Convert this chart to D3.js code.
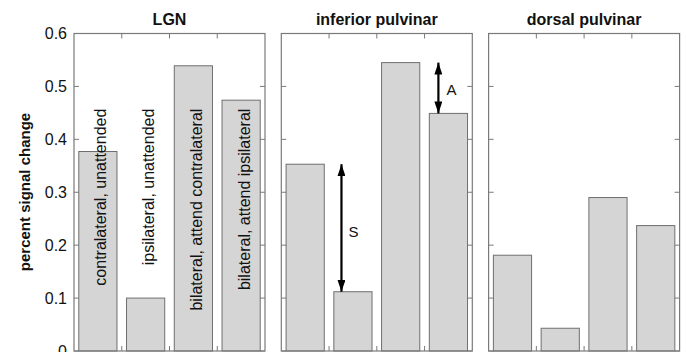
<!DOCTYPE html>
<html>
<head>
<meta charset="utf-8">
<script src="https://cdn.jsdelivr.net/npm/d3@7"></script>
<style>
html,body{margin:0;padding:0;background:#fff;}
svg{display:block;font-family:"Liberation Sans",Arial,Helvetica,sans-serif;}
</style>
</head>
<body>
<svg id="chart" width="686" height="352"></svg>
<script>
// ---- data ----
const panels = ["LGN", "inferior pulvinar", "dorsal pulvinar"];
const conditions = ["contralateral, unattended", "ipsilateral, unattended", "bilateral, attend contralateral", "bilateral, attend ipsilateral"];
const lgnValues = [0.377, 0.100, 0.539, 0.474];
const inferiorValues = [0.353, 0.112, 0.545, 0.449];
const dorsalValues = [0.181, 0.043, 0.290, 0.237];
const yTicks = [0, 0.1, 0.2, 0.3, 0.4, 0.5, 0.6];
const yTickLabels = ["0", "0.1", "0.2", "0.3", "0.4", "0.5", "0.6"];
const arrowLabels = ["S", "A"];
const arrowX = [1.76, 3.79];
const arrowFrom = [0.353, 0.545];
const arrowTo = [0.112, 0.449];

const values = [lgnValues, inferiorValues, dorsalValues];

// ---- layout ----
const svg = d3.select("#chart");
const mLeft = 74, panelW = 191, gap = 16.3, mTop = 33.5, mBottom = 351;
const y = d3.scaleLinear().domain([0, 0.6]).range([mBottom, mTop]);
const boxColor = "#7a7a7a";

// arrow marker
const defs = svg.append("defs");
defs.append("marker").attr("id", "ah").attr("viewBox", "0 0 12 8")
  .attr("refX", 12).attr("refY", 4).attr("markerWidth", 12).attr("markerHeight", 8)
  .attr("markerUnits", "userSpaceOnUse").attr("orient", "auto-start-reverse")
  .append("path").attr("d", "M0,0 L12,4 L0,8 Z").attr("fill", "#000");

panels.forEach((name, p) => {
  const x0 = mLeft + p * (panelW + gap);
  const x = d3.scaleLinear().domain([0.5, 4.5]).range([x0, x0 + panelW]);
  const g = svg.append("g");
  const vals = values[p];

  // bars
  g.selectAll("rect.bar").data(vals).enter().append("rect")
    .attr("class", "bar")
    .attr("x", (d, i) => x(i + 1 - 0.4))
    .attr("width", (d, i) => x(i + 1 + 0.4) - x(i + 1 - 0.4))
    .attr("y", d => y(d))
    .attr("height", d => y(0) - y(d))
    .attr("fill", "#d5d5d5")
    .attr("stroke", "#6f6f6f")
    .attr("stroke-width", 1);

  // frame
  g.append("rect").attr("x", x0).attr("y", mTop).attr("width", panelW).attr("height", mBottom - mTop)
    .attr("fill", "none").attr("stroke", boxColor).attr("stroke-width", 1.2);

  // inward ticks: y on both sides
  const tl = 5;
  yTicks.forEach(t => {
    g.append("line").attr("x1", x0).attr("x2", x0 + tl).attr("y1", y(t)).attr("y2", y(t)).attr("stroke", boxColor);
    g.append("line").attr("x1", x0 + panelW).attr("x2", x0 + panelW - tl).attr("y1", y(t)).attr("y2", y(t)).attr("stroke", boxColor);
  });
  // x ticks between bars, top and bottom
  [1.5, 2.5, 3.5].forEach(t => {
    g.append("line").attr("x1", x(t)).attr("x2", x(t)).attr("y1", mTop).attr("y2", mTop + tl).attr("stroke", boxColor);
    g.append("line").attr("x1", x(t)).attr("x2", x(t)).attr("y1", mBottom).attr("y2", mBottom - tl).attr("stroke", boxColor);
  });

  // title
  g.append("text").attr("x", (x(0.5) + x(4.5)) / 2).attr("y", 25)
    .attr("text-anchor", "middle").attr("font-weight", "bold").attr("font-size", 16)
    .attr("fill", "#111").text(name);

  if (p === 0) {
    // y tick labels
    yTicks.forEach((t, i) => {
      g.append("text").attr("x", x0 - 7).attr("y", y(t)).attr("dy", "0.36em")
        .attr("text-anchor", "end").attr("font-size", 16).attr("fill", "#111").text(yTickLabels[i]);
    });
    // y label
    svg.append("text").attr("transform", `translate(30,192) rotate(-90)`)
      .attr("text-anchor", "middle").attr("font-weight", "bold").attr("font-size", 15)
      .attr("fill", "#111").text("percent signal change");
    // condition labels inside bars
    conditions.forEach((c, i) => {
      g.append("text")
        .attr("transform", `translate(${x(i + 1) + 3},${y(0.458)}) rotate(-90)`)
        .attr("text-anchor", "end").attr("dy", "0.35em")
        .attr("font-size", 16).attr("fill", "#111").text(c);
    });
  }

  if (p === 1) {
    arrowLabels.forEach((lab, i) => {
      g.append("line").attr("x1", x(arrowX[i])).attr("x2", x(arrowX[i]))
        .attr("y1", y(arrowFrom[i])).attr("y2", y(arrowTo[i]))
        .attr("stroke", "#000").attr("stroke-width", 2.2)
        .attr("marker-start", "url(#ah)").attr("marker-end", "url(#ah)");
      g.append("text").attr("x", x(arrowX[i]) + (i === 0 ? 12 : 13))
        .attr("y", (y(arrowFrom[i]) + y(arrowTo[i])) / 2 + (i === 0 ? 4 : 2))
        .attr("dy", "0.36em").attr("text-anchor", "middle")
        .attr("font-size", 15).attr("fill", "#111").text(lab);
    });
  }
});
</script>
</body>
</html>
